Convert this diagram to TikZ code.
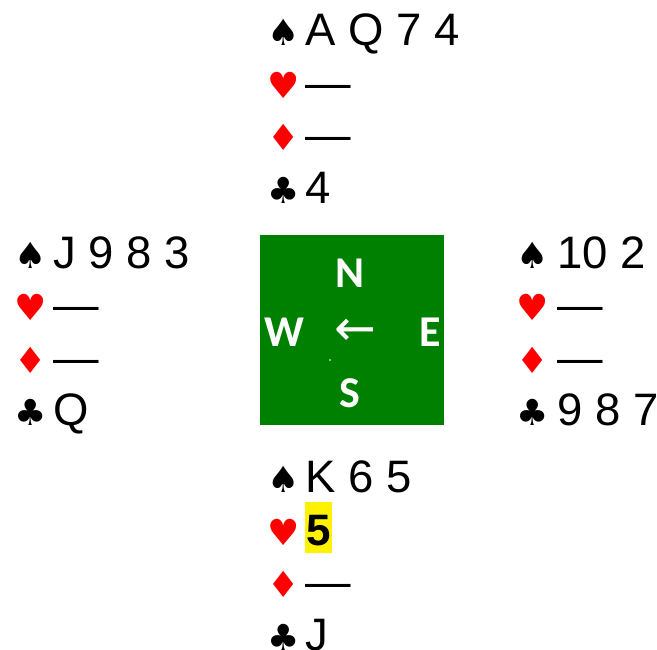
\documentclass[tikz,border=0pt]{standalone}
\usepackage{fontspec}
\setmainfont{Liberation Sans}
\newfontfamily\suitfont{DejaVu Sans}
\newfontfamily\dirfont{Carlito}
\newfontfamily\arrowfont{DejaVu Sans}
\definecolor{boardgreen}{RGB}{0,128,0}
\begin{document}
\begin{tikzpicture}[x=1pt,y=-1pt,
  card/.style={anchor=base west, inner sep=0pt, font=\fontsize{45.5}{45.5}\selectfont},
  blk/.style={anchor=base west, inner sep=0pt, font=\suitfont\fontsize{36}{36}\selectfont},
  rd/.style={blk, text=red},
  dir/.style={text=white, inner sep=0pt, font=\dirfont\bfseries\fontsize{44}{44}\selectfont},
  hilite/.style={anchor=base west, fill=yellow, inner xsep=1.5pt, inner ysep=0pt,
    text height=43pt, text depth=8pt, font=\bfseries\fontsize{44}{44}\selectfont}]
\useasboundingbox (0,0) rectangle (657,649);
% North
\node[blk] (nS) at (267,45) {♠};   \node[card] (nSt) at (305,45) {A Q 7 4};
\node[rd]  (nH) at (267,98) {♥};   \node[card] (nHt) at (305,98) {—};
\node[rd]  (nD) at (267,150) {♦};  \node[card] (nDt) at (305,150) {—};
\node[blk] (nC) at (267,203) {♣};  \node[card] (nCt) at (305,203) {4};
% West
\node[blk] (wS) at (14,268) {♠};   \node[card] (wSt) at (53,268) {J 9 8 3};
\node[rd]  (wH) at (14,320) {♥};   \node[card] (wHt) at (53,320) {—};
\node[rd]  (wD) at (14,373) {♦};   \node[card] (wDt) at (53,373) {—};
\node[blk] (wC) at (14,425) {♣};   \node[card] (wCt) at (53,425) {Q};
% East
\node[blk] (eS) at (516,268) {♠};  \node[card] (eSt) at (557,268) {10 2};
\node[rd]  (eH) at (516,320) {♥};  \node[card] (eHt) at (557,320) {—};
\node[rd]  (eD) at (516,373) {♦};  \node[card] (eDt) at (557,373) {—};
\node[blk] (eC) at (516,425) {♣};  \node[card] (eCt) at (557,425) {9 8 7};
% South
\node[blk] (sS) at (267,492) {♠};  \node[card] (sSt) at (305,492) {K 6 5};
\node[rd]  (sH) at (267,545) {♥};  \node[hilite] (sHt) at (304.5,545) {5};
\node[rd]  (sD) at (267,597) {♦};  \node[card] (sDt) at (305,597) {—};
\node[blk] (sC) at (267,650) {♣};  \node[card] (sCt) at (305,650) {J};
% Board
\node[fill=boardgreen, minimum width=184pt, minimum height=190pt, inner sep=0pt, anchor=north west] (board) at (260,235) {};
\node[dir] (dN) at (350,273) {N};
\node[dir] (dW) at (284,332) {W};
\node[dir] (dE) at (430,332) {E};
\node[dir] (dS) at (350,393) {S};
\node[text=white, inner sep=0pt, font=\arrowfont\fontsize{50}{50}\selectfont] (arrow) at (355,332) {←};
\fill[white] (330,360) circle (0.8pt);
\end{tikzpicture}
\end{document}
